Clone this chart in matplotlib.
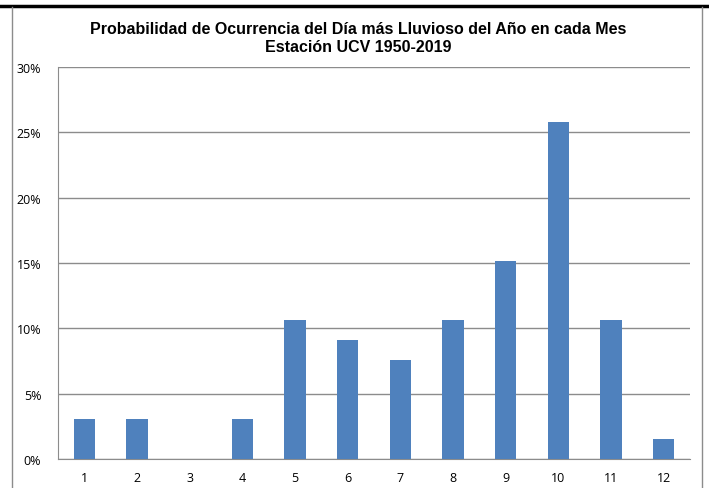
import matplotlib.pyplot as plt
from matplotlib.lines import Line2D
from matplotlib.ticker import PercentFormatter

# months and share of years whose wettest day fell in that month
meses = [1, 2, 3, 4, 5, 6, 7, 8, 9, 10, 11, 12]
probabilidad = [3.03, 3.03, 0.0, 3.03, 10.61, 9.09, 7.58, 10.61, 15.15, 25.76, 10.61, 1.52]
ticks_y = [0, 5, 10, 15, 20, 25, 30]

W, H = 709, 489
fig = plt.figure(figsize=(W / 100, H / 100), dpi=100)
ax = fig.add_axes([58 / W, 1 - 460 / H, (690 - 58) / W, (460 - 68) / H])

ax.bar(meses, probabilidad, width=0.4, color='#4F81BD', zorder=3)
ax.set_xlim(0.5, 12.5)
ax.set_ylim(0, 30)
ax.set_yticks(ticks_y)
ax.yaxis.set_major_formatter(PercentFormatter(decimals=0))
ax.set_xticks(meses)
ax.grid(axis='y', color='#8c8c8c', linewidth=1, zorder=0)
for s in ['top', 'right']:
    ax.spines[s].set_visible(False)
ax.spines['left'].set_color('#8c8c8c')
ax.spines['bottom'].set_color('#8c8c8c')
ax.tick_params(length=0, labelsize=9, pad=9)
ax.tick_params(axis='y', pad=12)
for lab in ax.get_xticklabels() + ax.get_yticklabels():
    lab.set_family('Open Sans')

fig.text(358 / W, 1 - 30 / H, 'Probabilidad de Ocurrencia del Día más Lluvioso del Año en cada Mes',
         ha='center', va='center', fontsize=11.5, fontweight='bold', family='Liberation Sans')
fig.text(358 / W, 1 - 47 / H, 'Estación UCV 1950-2019',
         ha='center', va='center', fontsize=11.5, fontweight='bold', family='Liberation Sans')

# frame lines of the original sheet
fig.add_artist(Line2D([0, 1], [1 - 7 / H, 1 - 7 / H], color='black', linewidth=2.5))
fig.add_artist(Line2D([12 / W, 12 / W], [0, 1 - 8 / H], color='#8c8c8c', linewidth=1))
fig.add_artist(Line2D([702 / W, 702 / W], [0, 1 - 8 / H], color='#8c8c8c', linewidth=1))

fig.savefig('out.png', dpi=100)
